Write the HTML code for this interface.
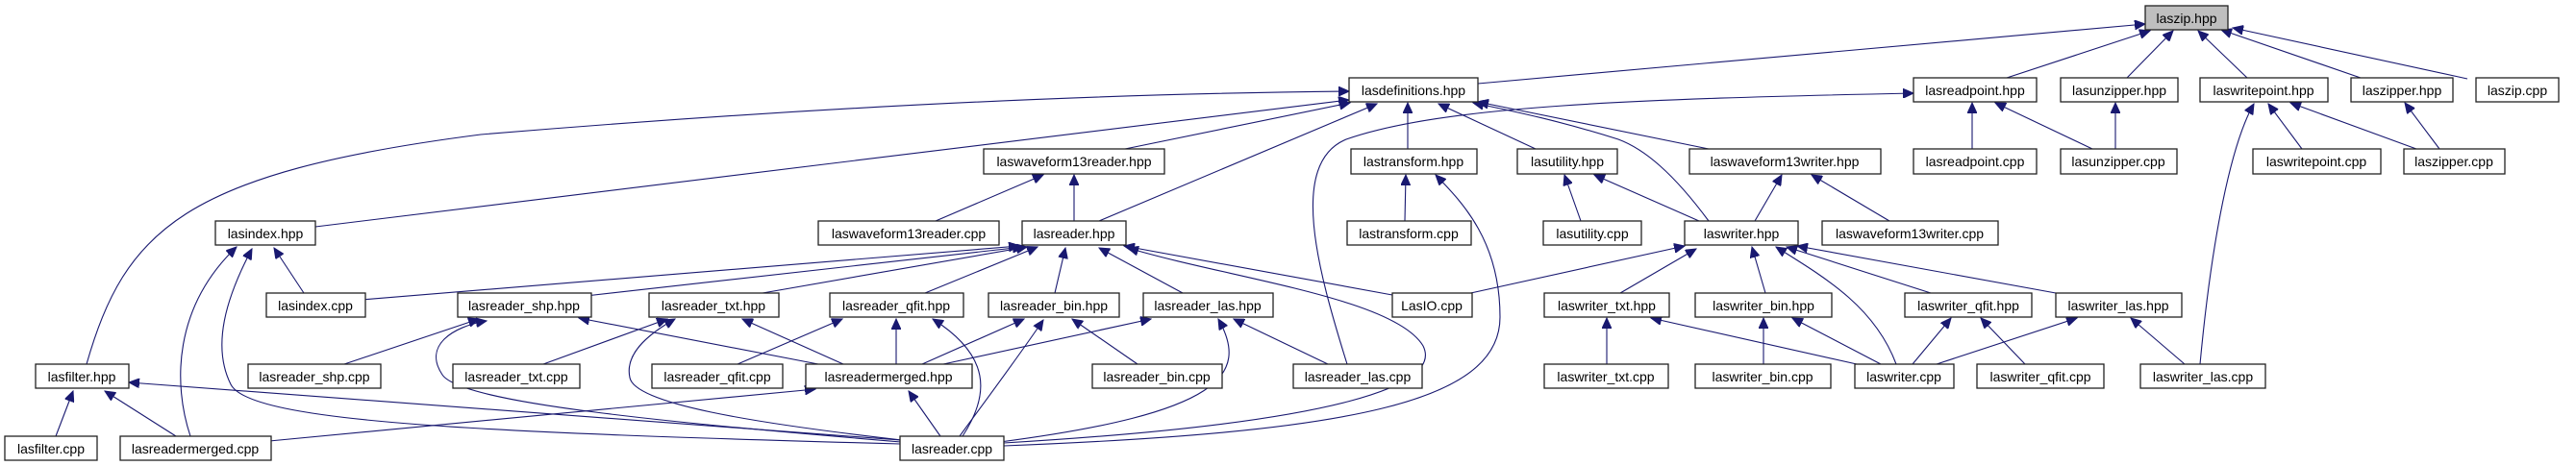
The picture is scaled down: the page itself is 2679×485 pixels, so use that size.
<!DOCTYPE html>
<html><head><meta charset="utf-8"><style>
html,body{margin:0;padding:0;background:#fff;}
svg{display:block;}
text{font-family:"Liberation Sans",sans-serif;font-size:14px;fill:#000;text-anchor:middle;}
rect{fill:#fff;stroke:#222;stroke-width:1.3;}
.e{fill:none;stroke:#191970;stroke-width:1.1;marker-end:url(#ah);}
</style></head><body>
<svg width="2679" height="485" viewBox="0 0 2679 485" xmlns="http://www.w3.org/2000/svg">
<defs><marker id="ah" markerUnits="userSpaceOnUse" markerWidth="12" markerHeight="10" refX="11" refY="5" orient="auto"><path d="M0,0 L11,5 L0,10 z" fill="#191970" stroke="#191970"/></marker></defs>
<g>
<path class="e" d="M1537 87 L2231 25"/>
<path class="e" d="M2087 81 L2236 32"/>
<path class="e" d="M2212 81 L2260 32"/>
<path class="e" d="M2337 81 L2286 32"/>
<path class="e" d="M2455 81 L2310 31"/>
<path class="e" d="M2566 82 L2322 29"/>
<path class="e" d="M2051 155 L2051 107"/>
<path class="e" d="M2176 155 L2075 107"/>
<path class="e" d="M2200 155 L2200 107"/>
<path class="e" d="M2394 155 L2359 108"/>
<path class="e" d="M2513 155 L2382 107"/>
<path class="e" d="M2537 155 L2501 107"/>
<path class="e" d="M2288 379 C2300 250 2320 150 2344 108"/>
<path class="e" d="M1825 230 L1853 182"/>
<path class="e" d="M1965 230 L1884 182"/>
<path class="e" d="M1836 305 L1822 257"/>
<path class="e" d="M1972 379 C1950 320 1900 290 1847 257"/>
<path class="e" d="M2008 305 L1858 257"/>
<path class="e" d="M2138 305 L1869 256"/>
<path class="e" d="M1956 379 L1864 331"/>
<path class="e" d="M1931 379 L1717 331"/>
<path class="e" d="M1834 379 L1834 331"/>
<path class="e" d="M1989 379 L2029 331"/>
<path class="e" d="M2106 379 L2060 331"/>
<path class="e" d="M2014 379 L2160 331"/>
<path class="e" d="M2272 379 L2216 331"/>
<path class="e" d="M1671 379 L1671 331"/>
<path class="e" d="M90 379 C130 240 190 180 500 140 C800 115 1100 98 1403 95"/>
<path class="e" d="M328 236 L1403 104"/>
<path class="e" d="M1170 155 L1404 107"/>
<path class="e" d="M1143 230 L1432 108"/>
<path class="e" d="M1464 155 L1464 107"/>
<path class="e" d="M1597 155 L1496 108"/>
<path class="e" d="M1777 230 C1740 180 1710 155 1683 145 C1620 125 1570 115 1532 107"/>
<path class="e" d="M1777 155 L1537 106"/>
<path class="e" d="M1401 379 C1370 280 1340 170 1400 145 C1500 110 1700 103 1990 97"/>
<path class="e" d="M973 230 L1085 182"/>
<path class="e" d="M1117 230 L1117 182"/>
<path class="e" d="M1461 230 L1462 182"/>
<path class="e" d="M1044 464 C1400 450 1560 420 1560 330 C1560 250 1520 210 1493 182"/>
<path class="e" d="M1644 230 L1627 182"/>
<path class="e" d="M1767 230 L1658 182"/>
<path class="e" d="M376 312 L1060 256"/>
<path class="e" d="M609 308 L1064 257"/>
<path class="e" d="M793 305 L1068 257"/>
<path class="e" d="M962 305 L1079 257"/>
<path class="e" d="M1097 305 L1108 258"/>
<path class="e" d="M1230 305 L1143 258"/>
<path class="e" d="M1448 307 L1169 256"/>
<path class="e" d="M1044 461 C1400 440 1500 400 1480 360 C1450 310 1280 290 1173 258"/>
<path class="e" d="M1525 306 L1752 256"/>
<path class="e" d="M1685 305 L1764 259"/>
<path class="e" d="M767 379 L876 332"/>
<path class="e" d="M932 379 L932 332"/>
<path class="e" d="M1001 454 C1030 410 1030 370 970 332"/>
<path class="e" d="M959 379 L1065 332"/>
<path class="e" d="M998 454 C1030 410 1060 370 1085 333"/>
<path class="e" d="M1183 379 L1115 332"/>
<path class="e" d="M981 379 L1197 332"/>
<path class="e" d="M1040 460 C1270 430 1300 390 1267 332"/>
<path class="e" d="M1381 379 L1283 332"/>
<path class="e" d="M978 454 L945 407"/>
<path class="e" d="M280 459 L848 405"/>
<path class="e" d="M358 379 L498 332"/>
<path class="e" d="M851 379 L602 331"/>
<path class="e" d="M937 460 C700 440 480 420 460 390 C440 360 470 340 506 334"/>
<path class="e" d="M565 379 L694 332"/>
<path class="e" d="M877 379 L772 332"/>
<path class="e" d="M938 458 C780 440 660 420 655 393 C650 370 670 350 702 332"/>
<path class="e" d="M316 305 L285 258"/>
<path class="e" d="M198 454 C180 400 180 320 246 257"/>
<path class="e" d="M936 462 C500 450 260 440 240 400 C220 360 235 310 262 259"/>
<path class="e" d="M58 454 L76 407"/>
<path class="e" d="M183 454 L109 407"/>
<path class="e" d="M936 458 L134 398"/>
</g>
<g>
<rect x="2231" y="6" width="86" height="25" style="fill:#bfbfbf"/><text x="2274" y="24">laszip.hpp</text>
<rect x="1403" y="81" width="134" height="25"/><text x="1470" y="99">lasdefinitions.hpp</text>
<rect x="1990" y="81" width="128" height="25"/><text x="2054" y="99">lasreadpoint.hpp</text>
<rect x="2143" y="81" width="122" height="25"/><text x="2204" y="99">lasunzipper.hpp</text>
<rect x="2288" y="81" width="133" height="25"/><text x="2354" y="99">laswritepoint.hpp</text>
<rect x="2445" y="81" width="106" height="25"/><text x="2498" y="99">laszipper.hpp</text>
<rect x="2575" y="81" width="86" height="25"/><text x="2618" y="99">laszip.cpp</text>
<rect x="224" y="230" width="104" height="25"/><text x="276" y="248">lasindex.hpp</text>
<rect x="1023" y="155" width="188" height="26"/><text x="1117" y="173">laswaveform13reader.hpp</text>
<rect x="1405" y="155" width="131" height="26"/><text x="1470" y="173">lastransform.hpp</text>
<rect x="1578" y="155" width="104" height="26"/><text x="1630" y="173">lasutility.hpp</text>
<rect x="1757" y="155" width="199" height="26"/><text x="1856" y="173">laswaveform13writer.hpp</text>
<rect x="1990" y="155" width="128" height="26"/><text x="2054" y="173">lasreadpoint.cpp</text>
<rect x="2143" y="155" width="121" height="26"/><text x="2203" y="173">lasunzipper.cpp</text>
<rect x="2343" y="155" width="133" height="26"/><text x="2409" y="173">laswritepoint.cpp</text>
<rect x="2500" y="155" width="105" height="26"/><text x="2552" y="173">laszipper.cpp</text>
<rect x="851" y="230" width="188" height="25"/><text x="945" y="248">laswaveform13reader.cpp</text>
<rect x="1063" y="230" width="108" height="25"/><text x="1117" y="248">lasreader.hpp</text>
<rect x="1401" y="230" width="129" height="25"/><text x="1465" y="248">lastransform.cpp</text>
<rect x="1605" y="230" width="102" height="25"/><text x="1656" y="248">lasutility.cpp</text>
<rect x="1752" y="230" width="118" height="25"/><text x="1811" y="248">laswriter.hpp</text>
<rect x="1895" y="230" width="183" height="25"/><text x="1986" y="248">laswaveform13writer.cpp</text>
<rect x="277" y="305" width="103" height="25"/><text x="328" y="323">lasindex.cpp</text>
<rect x="476" y="305" width="139" height="25"/><text x="545" y="323">lasreader_shp.hpp</text>
<rect x="675" y="305" width="135" height="25"/><text x="742" y="323">lasreader_txt.hpp</text>
<rect x="863" y="305" width="139" height="25"/><text x="932" y="323">lasreader_qfit.hpp</text>
<rect x="1028" y="305" width="136" height="25"/><text x="1096" y="323">lasreader_bin.hpp</text>
<rect x="1189" y="305" width="135" height="25"/><text x="1256" y="323">lasreader_las.hpp</text>
<rect x="1448" y="305" width="83" height="25"/><text x="1489" y="323">LasIO.cpp</text>
<rect x="1606" y="305" width="130" height="25"/><text x="1671" y="323">laswriter_txt.hpp</text>
<rect x="1763" y="305" width="142" height="25"/><text x="1834" y="323">laswriter_bin.hpp</text>
<rect x="1981" y="305" width="132" height="25"/><text x="2047" y="323">laswriter_qfit.hpp</text>
<rect x="2138" y="305" width="131" height="25"/><text x="2203" y="323">laswriter_las.hpp</text>
<rect x="37" y="379" width="97" height="25"/><text x="85" y="397">lasfilter.hpp</text>
<rect x="258" y="379" width="138" height="25"/><text x="327" y="397">lasreader_shp.cpp</text>
<rect x="471" y="379" width="132" height="25"/><text x="537" y="397">lasreader_txt.cpp</text>
<rect x="678" y="379" width="136" height="25"/><text x="746" y="397">lasreader_qfit.cpp</text>
<rect x="838" y="379" width="173" height="25"/><text x="924" y="397">lasreadermerged.hpp</text>
<rect x="1136" y="379" width="135" height="25"/><text x="1203" y="397">lasreader_bin.cpp</text>
<rect x="1345" y="379" width="134" height="25"/><text x="1412" y="397">lasreader_las.cpp</text>
<rect x="1606" y="379" width="129" height="25"/><text x="1670" y="397">laswriter_txt.cpp</text>
<rect x="1763" y="379" width="141" height="25"/><text x="1833" y="397">laswriter_bin.cpp</text>
<rect x="1929" y="379" width="103" height="25"/><text x="1980" y="397">laswriter.cpp</text>
<rect x="2056" y="379" width="132" height="25"/><text x="2122" y="397">laswriter_qfit.cpp</text>
<rect x="2226" y="379" width="130" height="25"/><text x="2291" y="397">laswriter_las.cpp</text>
<rect x="5" y="454" width="96" height="25"/><text x="53" y="472">lasfilter.cpp</text>
<rect x="125" y="454" width="157" height="25"/><text x="203" y="472">lasreadermerged.cpp</text>
<rect x="936" y="454" width="108" height="25"/><text x="990" y="472">lasreader.cpp</text>
</g>
</svg>
</body></html>
